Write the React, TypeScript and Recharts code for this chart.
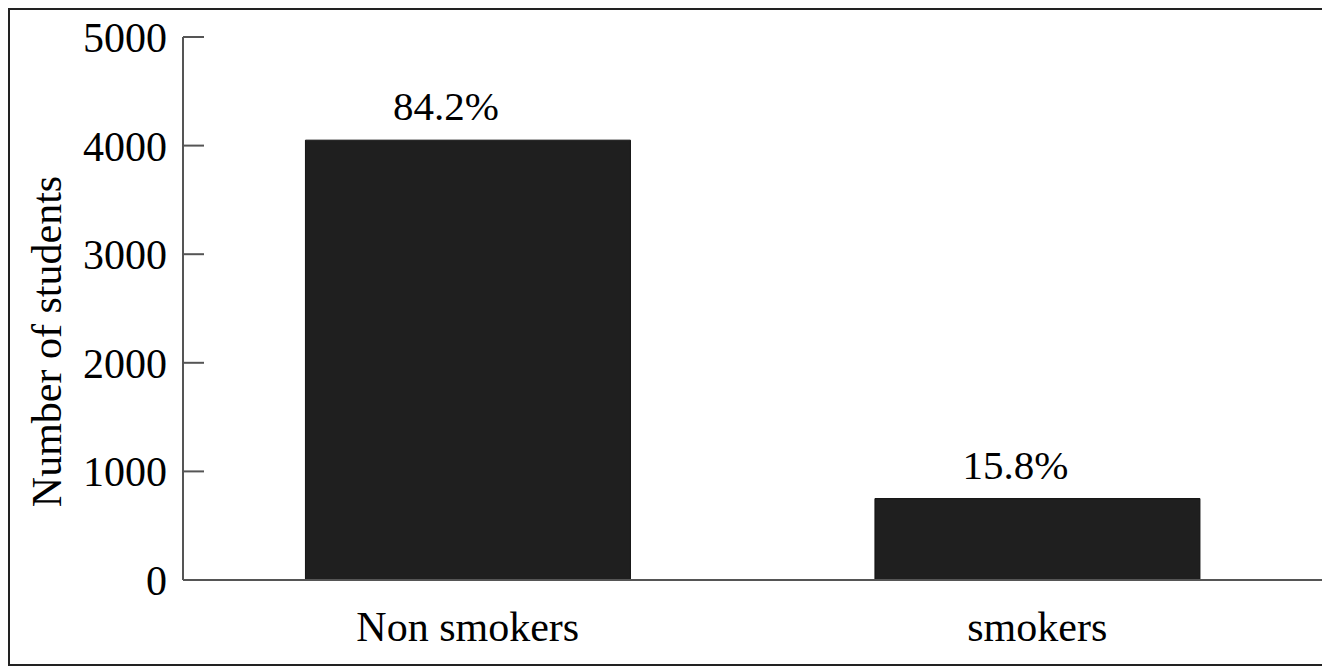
import { BarChart, Bar, XAxis, YAxis, LabelList } from 'recharts';

const groups = ['Non smokers', 'smokers'];
const students = [4050, 750];
const shares = ['84.2%', '15.8%'];
const yTicks = [0, 1000, 2000, 3000, 4000, 5000];

const data = groups.map((name, i) => ({ name, students: students[i], share: shares[i] }));

const FONT = '"Liberation Serif", "Times New Roman", serif';
const AXIS = '#555';

function YTick(props: any) {
  const { x, y, payload } = props;
  return (
    <g>
      <line x1={x + 16} y1={y} x2={x + 37} y2={y} stroke={AXIS} strokeWidth={2} />
      <text x={x} y={y} dy={15} textAnchor="end" fontFamily={FONT} fontSize={42} fill="#000">
        {payload.value}
      </text>
    </g>
  );
}

function YTitle(props: any) {
  const vb = props.viewBox;
  const x = vb.x + 51;
  const y = vb.y + vb.height / 2 + 33;
  return (
    <text
      x={x}
      y={y}
      transform={`rotate(-90 ${x} ${y})`}
      textAnchor="middle"
      fontFamily={FONT}
      fontSize={42}
      fill="#000"
    >
      Number of students
    </text>
  );
}

function ShareLabel(props: any) {
  const { x, y, width, value } = props;
  return (
    <text x={x + width / 2 - 22} y={y - 20} textAnchor="middle" fontFamily={FONT} fontSize={41} fill="#000">
      {value}
    </text>
  );
}

export default function App() {
  return (
    <div style={{ width: 1316, height: 654, border: '2px solid #222', background: '#fff' }}>
      <BarChart
        width={1316}
        height={654}
        data={data}
        margin={{ top: 27, right: 4, bottom: 0, left: 0 }}
        barCategoryGap="21.5%"
      >
        <XAxis
          dataKey="name"
          height={84}
          tickLine={false}
          tickSize={0}
          tickMargin={31}
          axisLine={{ stroke: AXIS, strokeWidth: 2 }}
          tick={{ fontFamily: FONT, fontSize: 42, fill: '#000' }}
        />
        <YAxis
          width={173}
          domain={[0, 5000]}
          ticks={yTicks}
          interval={0}
          tickLine={false}
          tickSize={0}
          tickMargin={16}
          axisLine={{ stroke: AXIS, strokeWidth: 2 }}
          tick={<YTick />}
          label={<YTitle />}
        />
        <Bar dataKey="students" fill="#1f1f1f" stroke="#111" strokeWidth={1} isAnimationActive={false}>
          <LabelList dataKey="share" content={<ShareLabel />} />
        </Bar>
      </BarChart>
    </div>
  );
}
